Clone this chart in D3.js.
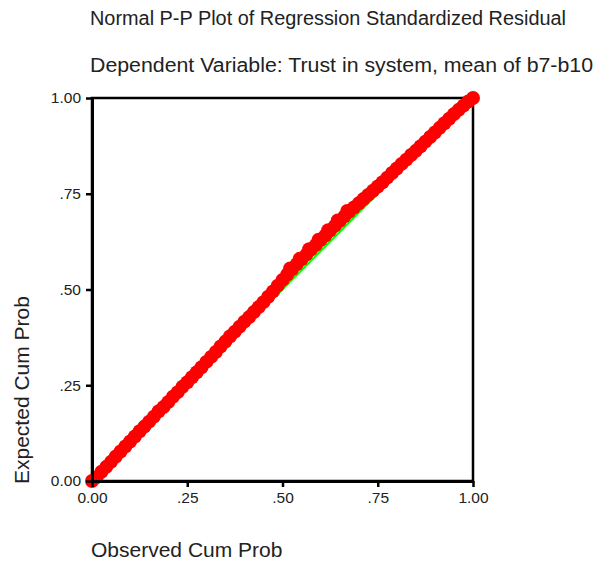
<!DOCTYPE html>
<html><head><meta charset="utf-8">
<script src="https://cdn.jsdelivr.net/npm/d3@7"></script>
<style>body{margin:0;background:#fff}svg{display:block}text{font-family:Arial,"Liberation Sans",sans-serif;fill:#222}</style>
</head><body><svg id="c" width="601" height="562"></svg>
<script>
const title1 = "Normal P-P Plot of Regression Standardized Residual";
const title2 = "Dependent Variable: Trust in system, mean of b7-b10";
const xLabel = "Observed Cum Prob";
const yLabel = "Expected Cum Prob";
const tickValues = [0, 0.25, 0.5, 0.75, 1];
const tickLabels = ["0.00", ".25", ".50", ".75", "1.00"];
const refLine = [[0, 0], [1, 1]];
const observed = [0.000,0.0125,0.025,0.0375,0.050,0.0625,0.075,0.0875,0.100,0.1125,0.125,0.1375,0.150,0.1625,0.175,0.1875,0.200,0.2125,0.225,0.2375,0.250,0.2625,0.275,0.2875,0.300,0.3125,0.325,0.3375,0.350,0.3625,0.375,0.3875,0.400,0.4125,0.425,0.4375,0.450,0.4625,0.475,0.4875,0.500,0.5125,0.525,0.5375,0.550,0.5625,0.575,0.5875,0.600,0.6125,0.625,0.6375,0.650,0.6625,0.675,0.6875,0.700,0.7125,0.725,0.7375,0.750,0.7625,0.775,0.7875,0.800,0.8125,0.825,0.8375,0.850,0.8625,0.875,0.8875,0.900,0.9125,0.925,0.9375,0.950,0.9625,0.975,0.9875,1.000];
const expected = [0.000,0.010,0.024,0.037,0.050,0.064,0.077,0.090,0.103,0.116,0.130,0.142,0.155,0.168,0.182,0.193,0.206,0.220,0.232,0.246,0.258,0.271,0.284,0.297,0.311,0.324,0.337,0.351,0.364,0.378,0.390,0.403,0.416,0.428,0.441,0.454,0.467,0.481,0.495,0.510,0.525,0.539,0.553,0.566,0.579,0.591,0.604,0.616,0.629,0.641,0.654,0.666,0.679,0.691,0.703,0.714,0.725,0.736,0.747,0.758,0.769,0.780,0.792,0.804,0.816,0.828,0.839,0.851,0.862,0.874,0.886,0.898,0.910,0.922,0.934,0.946,0.958,0.969,0.980,0.991,1.000];
const observedExtra = [0.520, 0.545, 0.570, 0.595, 0.620, 0.645, 0.670];
const expectedExtra = [0.555, 0.580, 0.605, 0.630, 0.655, 0.680, 0.705];

const svg = d3.select("#c");
const L = 92, R = 473, T = 98, B = 481;
const x = d3.scaleLinear().domain([0, 1]).range([L, R]);
const y = d3.scaleLinear().domain([0, 1]).range([B, T]);

svg.append("text").attr("x", 90).attr("y", 25).style("font-size", "20px")
  .attr("textLength", 476).attr("lengthAdjust", "spacingAndGlyphs").text(title1);
svg.append("text").attr("x", 90).attr("y", 72).style("font-size", "20px")
  .attr("textLength", 503).attr("lengthAdjust", "spacingAndGlyphs").text(title2);

// frame
svg.append("rect").attr("x", L).attr("y", T).attr("width", R - L).attr("height", B - T)
  .attr("fill", "none").attr("stroke", "#000").attr("stroke-width", 2.5);

// reference line
svg.append("line").attr("x1", x(refLine[0][0])).attr("y1", y(refLine[0][1]))
  .attr("x2", x(refLine[1][0])).attr("y2", y(refLine[1][1]))
  .attr("stroke", "#00ff00").attr("stroke-width", 2);

// points
const pts = observed.map((o, i) => [o, expected[i]])
  .concat(observedExtra.map((o, i) => [o, expectedExtra[i]]));
svg.append("g").selectAll("circle").data(pts).join("circle")
  .attr("cx", d => x(d[0])).attr("cy", d => y(d[1])).attr("r", 7).attr("fill", "#ff0000");

const fmt = (d) => tickLabels[tickValues.indexOf(d)];
const xAxis = svg.append("g").attr("transform", `translate(0,${B})`)
  .call(d3.axisBottom(x).tickValues(tickValues).tickFormat(fmt).tickSize(6).tickSizeOuter(0));
const yAxis = svg.append("g").attr("transform", `translate(${L},0)`)
  .call(d3.axisLeft(y).tickValues(tickValues).tickFormat(fmt).tickSize(6).tickSizeOuter(0));
[xAxis, yAxis].forEach(a => {
  a.select(".domain").attr("stroke", "#000").attr("stroke-width", 3);
  a.selectAll(".tick line").attr("stroke", "#000").attr("stroke-width", 2.5);
  a.selectAll(".tick text").style("font-size", "15.5px").style("font-family", "Arial, 'Liberation Sans', sans-serif").attr("fill", "#333");
});
xAxis.selectAll(".tick text").attr("y", 11).attr("dy", "0.71em");
yAxis.selectAll(".tick text").attr("x", -11);

svg.append("text").attr("x", 91).attr("y", 557).style("font-size", "21px").text(xLabel);
svg.append("text").attr("transform", "translate(29,484) rotate(-90)").style("font-size", "21px").text(yLabel);
</script></body></html>
